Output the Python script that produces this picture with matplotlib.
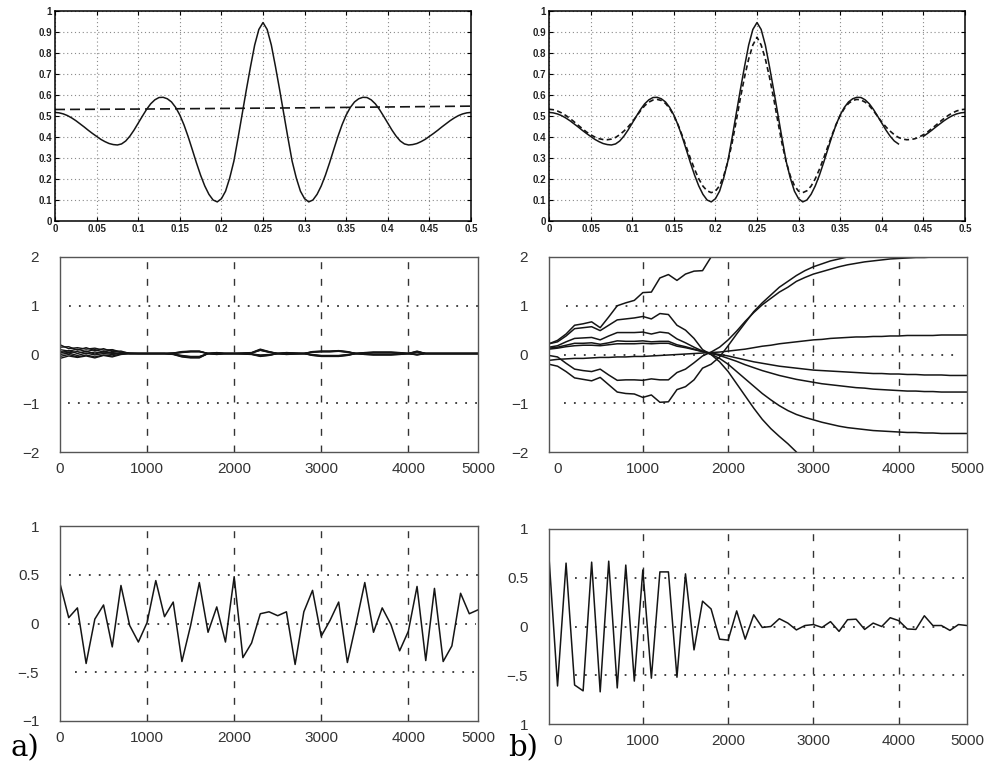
import numpy as np
import matplotlib
matplotlib.use("Agg")
import matplotlib.pyplot as plt

plt.rcParams['font.family'] = ['Liberation Sans', 'DejaVu Sans']

# ---- top row: magnitude responses over normalised frequency ----
freq = np.round(np.arange(0, 0.5001, 0.005), 3)

target = [0.517, 0.515, 0.510, 0.502, 0.491, 0.478, 0.463, 0.448, 0.432, 0.417,
          0.403, 0.389, 0.378, 0.369, 0.364, 0.362, 0.367, 0.381, 0.404, 0.433,
          0.466, 0.499, 0.531, 0.558, 0.577, 0.588, 0.589, 0.582, 0.567, 0.541,
          0.505, 0.458, 0.402, 0.340, 0.277, 0.218, 0.167, 0.127, 0.100, 0.091,
          0.106, 0.142, 0.205, 0.285, 0.395, 0.510, 0.625, 0.735, 0.838, 0.912,
          0.945,
          0.912, 0.838, 0.735, 0.625, 0.510, 0.395, 0.285, 0.205, 0.142, 0.106,
          0.091, 0.100, 0.127, 0.167, 0.218, 0.277, 0.340, 0.402, 0.458, 0.505,
          0.541, 0.567, 0.582, 0.589, 0.588, 0.577, 0.558, 0.531, 0.499, 0.466,
          0.433, 0.404, 0.381, 0.367, 0.362, 0.364, 0.369, 0.378, 0.389, 0.403,
          0.417, 0.432, 0.448, 0.463, 0.478, 0.491, 0.502, 0.510, 0.515, 0.517]

est_b = [0.532, 0.530, 0.524, 0.515, 0.503, 0.489, 0.473, 0.456, 0.440, 0.424,
         0.411, 0.400, 0.392, 0.388, 0.387, 0.390, 0.398, 0.411, 0.428, 0.448,
         0.471, 0.498, 0.525, 0.549, 0.566, 0.576, 0.579, 0.574, 0.560, 0.536,
         0.502, 0.459, 0.408, 0.353, 0.298, 0.246, 0.201, 0.166, 0.144, 0.135,
         0.142, 0.168, 0.215, 0.283, 0.370, 0.475, 0.585, 0.685, 0.772, 0.838,
         0.875,
         0.838, 0.772, 0.685, 0.585, 0.475, 0.370, 0.283, 0.215, 0.168, 0.142,
         0.135, 0.144, 0.166, 0.201, 0.246, 0.298, 0.353, 0.408, 0.459, 0.502,
         0.536, 0.560, 0.574, 0.579, 0.576, 0.566, 0.549, 0.525, 0.498, 0.471,
         0.448, 0.428, 0.411, 0.398, 0.390, 0.387, 0.388, 0.392, 0.400, 0.411,
         0.424, 0.440, 0.456, 0.473, 0.489, 0.503, 0.515, 0.524, 0.530, 0.532]

est_a_freq = [0.0, 0.1, 0.2, 0.3, 0.4, 0.5]
est_a = [0.531, 0.533, 0.536, 0.539, 0.543, 0.547]

# ---- middle row: coefficient trajectories ----
t_a = np.arange(0, 4801, 100)
coef_a = [
    [0.20, 0.12, 0.14, 0.11, 0.13, 0.09, 0.10, 0.05,
     0.03, 0.02, 0.02, 0.02, 0.02, 0.03, 0.06, 0.07, 0.07, 0.02, 0.04, 0.02,
     0.02, 0.03, 0.04, 0.11, 0.06, 0.02, 0.04, 0.03, 0.02, 0.06, 0.07, 0.07,
     0.08, 0.06, 0.02, 0.04, 0.05, 0.05, 0.05, 0.04, 0.02, 0.07, 0.02,
     0.02, 0.02, 0.02, 0.02, 0.02, 0.02],
    [0.15, 0.16, 0.09, 0.14, 0.08, 0.12, 0.06, 0.07,
     0.02, 0.02, 0.02, 0.02, 0.02, 0.03, 0.05, 0.065, 0.065, 0.02, 0.035, 0.02,
     0.02, 0.025, 0.035, 0.10, 0.055, 0.02, 0.035, 0.025, 0.02, 0.055, 0.065, 0.065,
     0.075, 0.055, 0.02, 0.035, 0.045, 0.045, 0.045, 0.035, 0.02, 0.06, 0.02,
     0.02, 0.02, 0.02, 0.02, 0.02, 0.02],
    [0.10, 0.07, 0.11, 0.06, 0.10, 0.05, 0.09, 0.04,
     0.02, 0.02, 0.02, 0.02, 0.02, 0.025, 0.045, 0.06, 0.06, 0.02, 0.03, 0.02,
     0.02, 0.025, 0.03, 0.09, 0.05, 0.02, 0.03, 0.025, 0.02, 0.05, 0.06, 0.06,
     0.07, 0.05, 0.02, 0.03, 0.04, 0.04, 0.04, 0.03, 0.02, 0.055, 0.02,
     0.02, 0.02, 0.02, 0.02, 0.02, 0.02],
    [0.06, 0.04, 0.06, 0.02, 0.05, 0.03, 0.04, 0.02,
     0.02, 0.02, 0.02, 0.02, 0.02, 0.02, 0.04, 0.055, 0.055, 0.02, 0.03, 0.02,
     0.02, 0.02, 0.03, 0.085, 0.045, 0.02, 0.03, 0.02, 0.02, 0.045, 0.055, 0.055,
     0.065, 0.045, 0.02, 0.03, 0.035, 0.035, 0.035, 0.03, 0.02, 0.05, 0.02,
     0.02, 0.02, 0.02, 0.02, 0.02, 0.02],
    [0.03, 0.08, 0.02, 0.07, 0.01, 0.06, 0.02, 0.03,
     0.02, 0.02, 0.02, 0.02, 0.02, 0.01, -0.02, -0.04, -0.04, 0.02, 0.01, 0.02,
     0.02, 0.02, 0.01, -0.01, 0.00, 0.02, 0.01, 0.02, 0.02, 0.00, -0.02, -0.02,
     -0.02, 0.00, 0.02, 0.01, 0.005, 0.005, 0.005, 0.01, 0.02, 0.005, 0.02,
     0.02, 0.02, 0.02, 0.02, 0.02, 0.02],
    [0.00, 0.03, -0.02, 0.03, -0.01, 0.02, 0.00, 0.02,
     0.02, 0.02, 0.02, 0.02, 0.02, 0.01, -0.03, -0.05, -0.05, 0.02, 0.01, 0.02,
     0.02, 0.015, 0.01, -0.02, -0.01, 0.02, 0.01, 0.015, 0.02, -0.01, -0.025, -0.025,
     -0.025, -0.01, 0.02, 0.01, 0.00, 0.00, 0.00, 0.01, 0.02, 0.00, 0.02,
     0.02, 0.02, 0.02, 0.02, 0.02, 0.02],
    [-0.04, 0.00, -0.05, -0.01, -0.05, -0.01, -0.03, 0.01,
     0.02, 0.02, 0.02, 0.02, 0.02, 0.005, -0.04, -0.06, -0.06, 0.02, 0.005, 0.02,
     0.02, 0.015, 0.005, -0.03, -0.015, 0.02, 0.005, 0.015, 0.02, -0.015, -0.03, -0.03,
     -0.03, -0.015, 0.02, 0.005, -0.005, -0.005, -0.005, 0.005, 0.02, -0.005, 0.02,
     0.02, 0.02, 0.02, 0.02, 0.02, 0.02],
    [-0.08, -0.03, -0.06, -0.03, -0.07, -0.02, -0.05, 0.00,
     0.02, 0.02, 0.02, 0.02, 0.02, 0.00, -0.05, -0.07, -0.07, 0.02, 0.00, 0.02,
     0.02, 0.01, 0.00, -0.04, -0.02, 0.02, 0.00, 0.01, 0.02, -0.02, -0.04, -0.04,
     -0.04, -0.02, 0.02, 0.00, -0.01, -0.01, -0.01, 0.00, 0.02, -0.01, 0.02,
     0.02, 0.02, 0.02, 0.02, 0.02, 0.02],
]

t_b = np.arange(-100, 4801, 100)
nan = np.nan
coef_b = [
    [0.22, 0.29, 0.42, 0.60, 0.63, 0.67, 0.55, 0.77, 1.00, 1.06,
     1.11, 1.27, 1.28, 1.57, 1.64, 1.52, 1.65, 1.71, 1.72, 2.00,
     2.30, nan, nan, nan, nan, nan, nan, nan, nan, nan,
     nan, nan, nan, nan, nan, nan, nan, nan, nan, nan,
     nan, nan, nan, nan, nan, nan, nan, nan, nan, nan],
    [0.22, 0.26, 0.38, 0.53, 0.55, 0.57, 0.49, 0.60, 0.71, 0.73,
     0.75, 0.78, 0.73, 0.84, 0.82, 0.60, 0.50, 0.33, 0.10, 0.00,
     -0.15, -0.35, -0.60, -0.85, -1.10, -1.33, -1.52, -1.68, -1.83, -2.00,
     -2.20, nan, nan, nan, nan, nan, nan, nan, nan, nan,
     nan, nan, nan, nan, nan, nan, nan, nan, nan, nan],
    [0.15, 0.18, 0.26, 0.33, 0.34, 0.35, 0.30, 0.38, 0.45, 0.45,
     0.45, 0.46, 0.42, 0.46, 0.44, 0.32, 0.24, 0.15, 0.07, 0.00,
     -0.08, -0.20, -0.35, -0.50, -0.65, -0.80, -0.93, -1.05, -1.15, -1.23,
     -1.29, -1.34, -1.39, -1.43, -1.47, -1.50, -1.52, -1.54, -1.56, -1.57,
     -1.58, -1.59, -1.60, -1.60, -1.61, -1.61, -1.62, -1.62, -1.62, -1.62],
    [0.13, 0.15, 0.19, 0.23, 0.23, 0.24, 0.21, 0.24, 0.28, 0.27,
     0.27, 0.28, 0.26, 0.27, 0.27, 0.20, 0.16, 0.11, 0.06, 0.02,
     -0.02, -0.08, -0.14, -0.21, -0.27, -0.33, -0.38, -0.43, -0.47, -0.51,
     -0.54, -0.57, -0.60, -0.62, -0.64, -0.66, -0.68, -0.69, -0.71, -0.72,
     -0.73, -0.74, -0.75, -0.75, -0.76, -0.76, -0.77, -0.77, -0.77, -0.77],
    [0.11, 0.13, 0.16, 0.18, 0.19, 0.19, 0.18, 0.20, 0.22, 0.22,
     0.22, 0.23, 0.22, 0.23, 0.23, 0.17, 0.14, 0.10, 0.06, 0.03,
     0.00, -0.03, -0.07, -0.11, -0.15, -0.18, -0.21, -0.24, -0.26, -0.28,
     -0.30, -0.32, -0.33, -0.34, -0.35, -0.36, -0.37, -0.38, -0.39, -0.39,
     -0.40, -0.40, -0.41, -0.41, -0.42, -0.42, -0.42, -0.43, -0.43, -0.43],
    [-0.12, -0.10, -0.09, -0.08, -0.08, -0.07, -0.06, -0.06, -0.05, -0.05,
     -0.04, -0.04, -0.03, -0.02, -0.01, 0.00, 0.01, 0.02, 0.03, 0.04,
     0.05, 0.07, 0.09, 0.11, 0.14, 0.17, 0.19, 0.22, 0.24, 0.26,
     0.28, 0.30, 0.31, 0.33, 0.34, 0.35, 0.36, 0.36, 0.37, 0.37,
     0.38, 0.38, 0.39, 0.39, 0.39, 0.39, 0.40, 0.40, 0.40, 0.40],
    [-0.02, -0.05, -0.18, -0.30, -0.33, -0.35, -0.30, -0.42, -0.53, -0.52,
     -0.52, -0.53, -0.50, -0.52, -0.52, -0.37, -0.30, -0.17, -0.03, 0.05,
     0.15, 0.30, 0.48, 0.68, 0.86, 1.02, 1.15, 1.28, 1.38, 1.50,
     1.58, 1.65, 1.70, 1.75, 1.80, 1.84, 1.87, 1.90, 1.92, 1.94,
     1.96, 1.97, 1.98, 1.99, 1.99, 2.00, 2.00, 2.00, 2.00, 2.00],
    [-0.20, -0.24, -0.35, -0.48, -0.51, -0.54, -0.47, -0.62, -0.77, -0.80,
     -0.81, -0.88, -0.83, -0.98, -0.97, -0.72, -0.66, -0.52, -0.28, -0.20,
     -0.05, 0.18, 0.42, 0.65, 0.88, 1.06, 1.22, 1.38, 1.50, 1.62,
     1.72, 1.80, 1.86, 1.92, 1.96, 2.00, 2.03, 2.05, 2.07, 2.08,
     2.09, 2.10, 2.10, 2.10, 2.10, 2.10, 2.10, 2.10, 2.10, 2.10],
]

# ---- bottom row: error signals ----
err_a = [0.41, 0.06, 0.16, -0.41, 0.045, 0.19, -0.24, 0.39, -0.02, -0.19,
         0.01, 0.44, 0.07, 0.22, -0.39, -0.02, 0.42, -0.09, 0.17, -0.19,
         0.48, -0.35, -0.20, 0.10, 0.12, 0.08, 0.12, -0.42, 0.12, 0.34,
         -0.13, 0.03, 0.22, -0.40, 0.00, 0.42, -0.09, 0.16, -0.01, -0.28,
         -0.08, 0.38, -0.38, 0.36, -0.39, -0.23, 0.31, 0.10, 0.14]
err_b = [0.71, -0.61, 0.65, -0.60, -0.66, 0.66, -0.67, 0.67, -0.63, 0.63,
         -0.56, 0.58, -0.53, 0.56, 0.56, -0.52, 0.54, -0.24, 0.26, 0.18,
         -0.13, -0.14, 0.16, -0.13, 0.12, -0.01, 0.00, 0.08, 0.035, -0.035,
         0.01, 0.02, -0.01, 0.05, -0.05, 0.07, 0.075, -0.03, 0.035, 0.00,
         0.09, 0.06, -0.025, -0.03, 0.11, 0.01, 0.01, -0.04, 0.02, 0.01]

time_ticks = [0, 1000, 2000, 3000, 4000]
time_labels = ['0', '1000', '2000', '3000', '4000', '5000']

W, H = 997, 769
fig = plt.figure(figsize=(W / 100, H / 100), dpi=100)


def box(x0, y0, x1, y1):
    return fig.add_axes([x0 / W, 1 - y1 / H, (x1 - x0) / W, (y1 - y0) / H])


LINE = '#151515'
DOT = (0, (1, 4.5))
DASH = (0, (5, 7))


def freq_axes(ax):
    ax.set_xlim(0, 0.5)
    ax.set_ylim(0, 1)
    xt = np.round(np.arange(0, 0.5001, 0.05), 2)
    ax.set_xticks(xt)
    ax.set_xticklabels(['0'] + ['%g' % v for v in xt[1:]])
    yt = np.round(np.arange(0, 1.001, 0.1), 1)
    ax.set_yticks(yt)
    ax.set_yticklabels(['0'] + ['%g' % v for v in yt[1:-1]] + ['1'])
    ax.grid(True, linestyle=(0, (1, 2.5)), color='#8a8a8a', lw=0.8)
    ax.tick_params(direction='in', length=3, top=True, right=True,
                   labelsize=7, pad=2, width=0.8)
    for lab in ax.get_xticklabels() + ax.get_yticklabels():
        lab.set_fontweight('bold')
        lab.set_color('#222222')
    for s in ax.spines.values():
        s.set_linewidth(1.1)
        s.set_color('black')


def time_axes(ax, xmin, ylim, yticks, ylabels, hl):
    ax.set_xlim(xmin, 4800)
    ax.set_ylim(*ylim)
    ax.set_xticks(time_ticks + [4800])
    ax.set_xticklabels(time_labels)
    ax.set_yticks(yticks)
    ax.set_yticklabels(ylabels)
    ax.tick_params(length=0, labelsize=11, labelcolor='#333333')
    ax.tick_params(axis='x', pad=7)
    ax.tick_params(axis='y', pad=15)
    for s in ax.spines.values():
        s.set_color('#555555')
        s.set_linewidth(1.0)
    ax.vlines(time_ticks[1:], ylim[0], ylim[1], colors='#333333',
              linestyles=DASH, lw=1.0)
    for lev, a, b in hl:
        ax.plot([a, b], [lev, lev], linestyle=DOT, color='#333333', lw=1.3,
                clip_on=False)


# top left
ax = box(55, 11, 471, 221)
freq_axes(ax)
ax.plot(freq, target, color=LINE, lw=1.1)
ax.plot(est_a_freq, est_a, color=LINE, lw=1.2, dashes=(6, 3))

# top right
ax = box(549, 11, 965, 221)
freq_axes(ax)
target_b = np.where((freq > 0.421) & (freq < 0.449), np.nan, target)
ax.plot(freq, target_b, color=LINE, lw=1.1)
ax.plot(freq, est_b, color=LINE, lw=1.2, dashes=(3, 2))

# middle left
ax = box(60, 257, 478, 452)
time_axes(ax, 0, (-2, 2), [-2, -1, 0, 1, 2],
          ['\u22122', '\u22121', '0', '1', '2'],
          [(1, 100, 4860), (-1, 90, 4820)])
for c in coef_a:
    ax.plot(t_a, c, color=LINE, lw=1.0)

# middle right
ax = box(549, 257, 967, 452)
time_axes(ax, -100, (-2, 2), [-2, -1, 0, 1, 2],
          ['\u22122', '\u22121', '0', '1', '2'],
          [(1, 100, 4760), (0, 70, 4650), (-1, 70, 4800)])
for c in coef_b:
    ax.plot(t_b, c, color=LINE, lw=1.1)

# bottom left
ax = box(60, 526, 478, 721)
time_axes(ax, 0, (-1, 1), [-1, -0.5, 0, 0.5, 1],
          ['\u22121', '\u2212.5', '0', '0.5', '1'],
          [(0.5, 100, 4860), (0, 90, 4780), (-0.5, 170, 4820)])
ax.plot(t_a, err_a, color=LINE, lw=1.1)

# bottom right
ax = box(549, 529, 967, 724)
time_axes(ax, -100, (-1, 1), [-1, -0.5, 0, 0.5, 1],
          ['1', '\u2212.5', '0', '0.5', '1'],
          [(0.5, 200, 4760), (0, 200, 4700), (-0.5, 200, 4800)])
ax.plot(t_b, err_b, color=LINE, lw=1.1)

fig.text(10 / W, 1 - 756 / H, 'a)', family='DejaVu Serif', fontsize=21,
         va='baseline')
fig.text(508 / W, 1 - 756 / H, 'b)', family='DejaVu Serif', fontsize=21,
         va='baseline')

fig.savefig('out.png', dpi=100)
